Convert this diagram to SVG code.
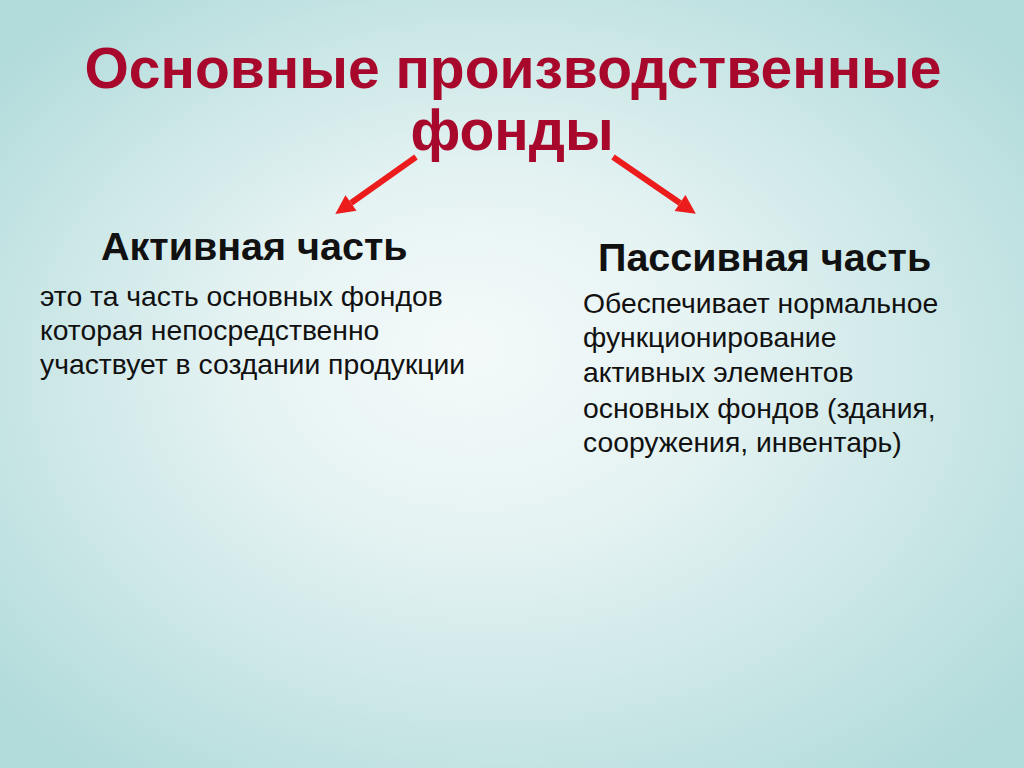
<svg xmlns="http://www.w3.org/2000/svg" width="1024" height="768" viewBox="0 0 1024 768">
<defs>
<radialGradient id="bg" cx="0.5" cy="0.5" r="0.65" fx="0.45" fy="0.45">
<stop offset="0" stop-color="#f4fafa"/>
<stop offset="0.35" stop-color="#e6f3f3"/>
<stop offset="1" stop-color="#b2dbdb"/>
</radialGradient>
<marker id="ah" viewBox="0 0 10 10" refX="0" refY="5" markerWidth="3.4" markerHeight="3.2" orient="auto" markerUnits="strokeWidth">
<path d="M0,0 L10,5 L0,10 z" fill="#ec1c1c"/>
</marker>
<style>
.title{font-family:"Liberation Sans",Arial,sans-serif;font-weight:bold;font-size:57px;fill:#a8082c;text-anchor:middle}
.head{font-family:"Liberation Sans",Arial,sans-serif;font-weight:bold;font-size:39.5px;fill:#111}
.body{font-family:"Liberation Sans",Arial,sans-serif;font-size:28.3px;fill:#111}
.arr{stroke:#ec1c1c;stroke-width:6;fill:none;marker-end:url(#ah)}
</style>
</defs>
<rect width="1024" height="768" fill="url(#bg)"/>
<g id="title">
<text class="title" x="513" y="88">Основные производственные</text>
<text class="title" x="512" y="150">фонды</text>
</g>
<g id="connectors">
<line class="arr" x1="416" y1="157" x2="351" y2="203"/>
<line class="arr" x1="613" y1="157" x2="680" y2="203"/>
</g>
<g id="active">
<text class="head" x="101" y="260">Активная часть</text>
<text class="body" x="40" y="306">это та часть основных фондов</text>
<text class="body" x="40" y="340">которая непосредственно</text>
<text class="body" x="40" y="374">участвует в создании продукции</text>
</g>
<g id="passive">
<text class="head" x="598" y="271">Пассивная часть</text>
<text class="body" x="583" y="313">Обеспечивает нормальное</text>
<text class="body" x="583" y="347">функционирование</text>
<text class="body" x="583" y="382">активных элементов</text>
<text class="body" x="583" y="418">основных фондов (здания,</text>
<text class="body" x="583" y="452">сооружения, инвентарь)</text>
</g>
</svg>
